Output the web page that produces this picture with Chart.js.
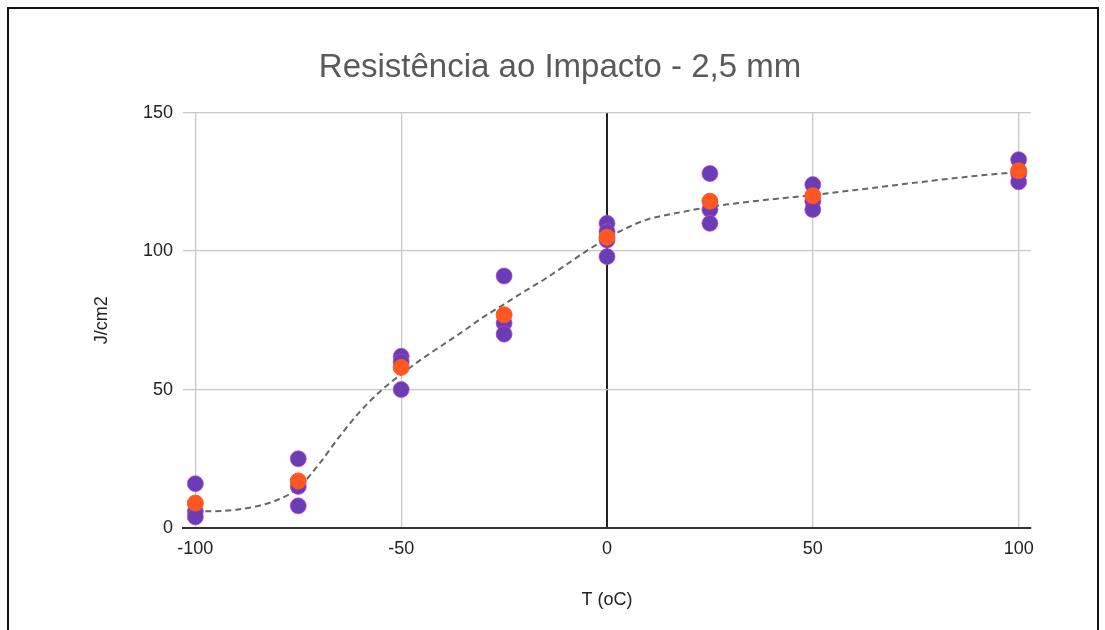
<!DOCTYPE html>
<html>
<head>
<meta charset="utf-8">
<script src="https://cdn.jsdelivr.net/npm/chart.js@4.4.1/dist/chart.umd.min.js"></script>
<style>
    html, body { margin: 0; padding: 0; background: #fff; overflow: hidden; }
    #frame { position: absolute; left: 7px; top: 7px; width: 1088px; height: 700px; border: 2px solid #111; }
    #impactChart { position: absolute; left: 0; top: 0; }
</style>
</head>
<body>
<div id="frame"></div>
<canvas id="impactChart" width="1105" height="630"></canvas>
<script>
// Resistência ao impacto - 2,5 mm

const temperatures = [-100, -75, -50, -25, 0, 25, 50, 100];

// medições individuais (roxo)
const measuredT = [-100, -100, -100, -75, -75, -75, -50, -50, -50, -25, -25, -25, 0, 0, 0, 0, 25, 25, 25, 50, 50, 50, 100, 100, 100];
const measuredJ = [16, 6, 4, 25, 15, 8, 62, 60, 50, 91, 74, 70, 110, 107, 104, 98, 128, 115, 110, 124, 118, 115, 133, 128, 125];

// média por temperatura (laranja)
const averageJ = [9, 17, 58, 77, 105, 118, 120, 129];

// linha de tendência (tracejada)
const trendT = [-100, -90, -80, -75, -70, -65, -60, -55, -50, -45, -40, -35, -30, -25, -20, -15, -10, -5, 0, 5, 10, 15, 20, 25, 30, 40, 50, 60, 70, 80, 90, 100];
const trendJ = [5.9, 6.6, 10.2, 14.5, 23, 33, 42, 49.5, 55.5, 61, 66, 71, 76.2, 80.8, 85.5, 90, 95, 100, 104.6, 108.5, 111.5, 113.2, 114.6, 116, 117, 118.7, 120.2, 122, 123.8, 125.6, 127.2, 128.6];

const xTicks = [-100, -50, 0, 50, 100];
const yTicks = [0, 50, 100, 150];

const toPoints = (xs, ys) => xs.map((x, i) => ({ x: x, y: ys[i] }));

const tickFont = { family: 'Liberation Sans, Arial, sans-serif', size: 18 };

const ctx = document.getElementById('impactChart');

new Chart(ctx, {
    type: 'scatter',
    data: {
        datasets: [
            {
                label: 'Média',
                data: toPoints(temperatures, averageJ),
                backgroundColor: '#ff5722',
                borderColor: '#ff5722',
                pointRadius: 8,
                pointHoverRadius: 8
            },
            {
                label: 'Medições',
                data: toPoints(measuredT, measuredJ),
                backgroundColor: '#6a3cb6',
                borderColor: 'rgba(190, 70, 200, 0.7)',
                borderWidth: 1,
                pointRadius: 8,
                pointHoverRadius: 8
            },
            {
                label: 'Tendência',
                data: toPoints(trendT, trendJ),
                showLine: true,
                borderColor: '#666',
                borderWidth: 2,
                borderDash: [6, 4],
                pointRadius: 0,
                cubicInterpolationMode: 'monotone',
                fill: false
            }
        ]
    },
    options: {
        responsive: false,
        animation: false,
        devicePixelRatio: 1,
        layout: {
            padding: { left: 89, right: 74, top: 0, bottom: 0 }
        },
        plugins: {
            legend: { display: false },
            tooltip: { enabled: false },
            title: {
                display: true,
                text: 'Resistência ao Impacto - 2,5 mm',
                color: '#5a5a5a',
                font: { family: 'Liberation Sans, Arial, sans-serif', size: 33, weight: 'normal' },
                padding: { top: 48, bottom: 25 }
            }
        },
        scales: {
            x: {
                type: 'linear',
                min: -103,
                max: 103,
                afterBuildTicks: scale => {
                    scale.ticks = xTicks.map(v => ({ value: v }));
                },
                afterFit: scale => {
                    scale.height = 102;
                },
                ticks: {
                    color: '#222',
                    font: tickFont,
                    padding: 10,
                    maxRotation: 0,
                    autoSkip: false
                },
                grid: {
                    drawTicks: false,
                    color: c => (c.tick && c.tick.value === 0 ? '#222' : '#c8c8c8'),
                    lineWidth: c => (c.tick && c.tick.value === 0 ? 2 : 1.3)
                },
                border: { display: true, color: '#333', width: 2 },
                title: {
                    display: true,
                    text: 'T (oC)',
                    color: '#222',
                    font: tickFont,
                    padding: { top: 0, bottom: 19 }
                }
            },
            y: {
                type: 'linear',
                min: 0,
                max: 150,
                afterBuildTicks: scale => {
                    scale.ticks = yTicks.map(v => ({ value: v }));
                },
                afterFit: scale => {
                    scale.width = 94;
                },
                ticks: {
                    color: '#222',
                    font: tickFont,
                    padding: 10
                },
                grid: {
                    drawTicks: false,
                    color: c => (c.tick && c.tick.value === 0 ? '#333' : '#c8c8c8'),
                    lineWidth: 1.3
                },
                border: { display: false },
                title: {
                    display: true,
                    text: 'J/cm2',
                    color: '#222',
                    font: tickFont,
                    padding: { top: 2, bottom: 0 }
                }
            }
        }
    }
});
</script>
</body>
</html>
